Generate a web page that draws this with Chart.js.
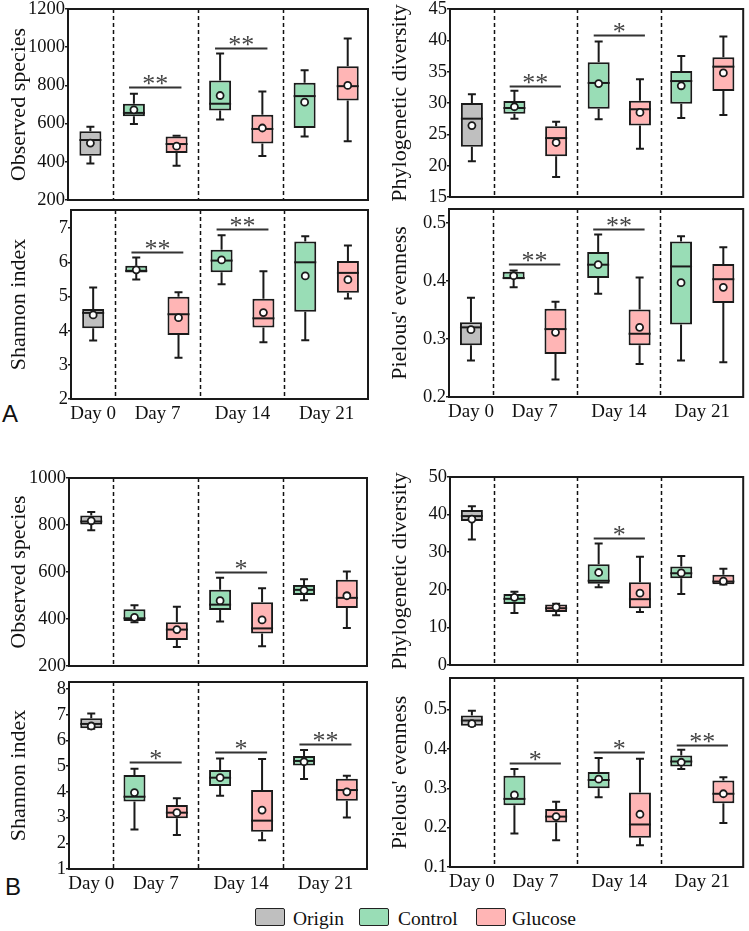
<!DOCTYPE html>
<html>
<head>
<meta charset="UTF-8" />
<script src="https://cdn.jsdelivr.net/npm/chart.js@4"></script>
<style>
  body { margin: 0; width: 749px; height: 931px; position: relative; overflow: hidden; background: #fff; }
  canvas { position: absolute; }
  .tag { position: absolute; font-family: 'Liberation Sans', Arial, sans-serif; font-size: 24px; line-height: 1; color: #111; }
  .swatch { position: absolute; width: 28px; height: 16px; border: 1.5px solid #222; border-radius: 2px; }
  .lbl { position: absolute; font-family: 'Liberation Serif', 'Times New Roman', serif; font-size: 19.5px; line-height: 1; color: #111; }
</style>
</head>
<body>
<div class="tag" style="left:2px;top:402px">A</div>
<div class="tag" style="left:5px;top:875px">B</div>

<div class="swatch" style="left:255px;top:908px;background:#BFBFBF"></div>
<div class="lbl" style="left:293px;top:909px">Origin</div>
<div class="swatch" style="left:359px;top:908px;background:#99DDB6"></div>
<div class="lbl" style="left:398px;top:909px">Control</div>
<div class="swatch" style="left:476px;top:908px;background:#FFB5B5"></div>
<div class="lbl" style="left:512px;top:909px">Glucose</div>

<script>
// box order: Day 0 Origin, Day 7 Control/Glucose, Day 14 Control/Glucose, Day 21 Control/Glucose
const groups = ["Origin", "Control", "Glucose", "Control", "Glucose", "Control", "Glucose"];
const dayLabels = ["Day 0", "Day 7", "Day 14", "Day 21"];

// each box: [low whisker, q1, median, q3, high whisker, mean]
const obsA = [
  [391, 432, 514, 560, 584, 498],
  [598, 639, 656, 704, 756, 672],
  [379, 446, 493, 532, 537, 482],
  [621, 668, 704, 826, 967, 747],
  [430, 496, 572, 646, 768, 577],
  [532, 577, 744, 814, 879, 712],
  [507, 721, 796, 900, 1046, 800],
];
const pdA = [
  [20.7, 23.0, 27.5, 30.0, 31.4, 26.4],
  [27.5, 28.3, 29.2, 30.3, 31.95, 29.4],
  [18.2, 21.5, 24.4, 26.3, 27.0, 23.7],
  [27.4, 29.1, 33.2, 36.5, 39.8, 33.1],
  [22.7, 26.4, 29.0, 30.35, 33.8, 28.5],
  [27.6, 29.9, 33.5, 35.1, 37.5, 32.75],
  [28.1, 31.9, 35.8, 37.3, 40.6, 34.8],
];
const shanA = [
  [3.71, 4.07, 4.52, 4.63, 5.26, 4.46],
  [5.5, 5.7, 5.75, 5.9, 6.14, 5.78],
  [3.21, 3.875, 4.48, 4.99, 5.12, 4.38],
  [5.36, 5.71, 6.05, 6.37, 6.79, 6.07],
  [3.66, 4.09, 4.36, 4.93, 5.74, 4.53],
  [3.72, 4.55, 6.0, 6.61, 6.76, 5.6],
  [4.94, 5.11, 5.69, 6.04, 6.49, 5.49],
];
const pielA = [
  [0.263, 0.289, 0.32, 0.329, 0.371, 0.316],
  [0.389, 0.403, 0.405, 0.416, 0.418, 0.409],
  [0.23, 0.274, 0.317, 0.352, 0.364, 0.3115],
  [0.378, 0.405, 0.428, 0.45, 0.48, 0.428],
  [0.257, 0.289, 0.309, 0.351, 0.406, 0.32],
  [0.263, 0.325, 0.425, 0.468, 0.477, 0.397],
  [0.26, 0.362, 0.403, 0.429, 0.458, 0.389],
];
const obsB = [
  [778, 802, 815, 840, 855, 818],
  [386, 391, 403, 442, 459, 407],
  [281, 311, 355, 386, 452, 355],
  [389, 438, 461, 524, 576, 478],
  [284, 338, 360, 471, 531, 396],
  [480, 502, 524, 545, 569, 522],
  [362, 447, 490, 567, 602, 499],
];
const pdB = [
  [33.4, 38.3, 39.6, 41.2, 42.2, 38.8],
  [13.8, 16.2, 17.6, 18.9, 19.5, 18.0],
  [13.2, 14.1, 15.1, 16.1, 16.3, 15.4],
  [20.7, 21.6, 22.4, 26.8, 32.3, 24.6],
  [14.1, 15.1, 17.5, 22.0, 28.8, 19.1],
  [18.9, 23.1, 24.4, 26.2, 29.0, 24.5],
  [21.4, 21.5, 22.2, 24.0, 25.6, 22.3],
];
const shanB = [
  [6.45, 6.47, 6.64, 6.86, 7.05, 6.56],
  [2.54, 3.62, 3.81, 4.65, 4.9, 3.97],
  [2.32, 2.97, 3.19, 3.49, 3.75, 3.19],
  [3.85, 4.23, 4.55, 4.85, 5.3, 4.55],
  [2.12, 2.45, 2.88, 4.07, 5.28, 3.29],
  [4.5, 5.02, 5.2, 5.39, 5.63, 5.17],
  [3.0, 3.65, 4.07, 4.51, 4.63, 4.0],
];
const pielB = [
  [0.459, 0.459, 0.472, 0.485, 0.497, 0.464],
  [0.185, 0.257, 0.273, 0.332, 0.349, 0.283],
  [0.168, 0.213, 0.228, 0.247, 0.266, 0.228],
  [0.277, 0.30, 0.321, 0.341, 0.377, 0.323],
  [0.155, 0.174, 0.208, 0.289, 0.375, 0.234],
  [0.349, 0.355, 0.368, 0.383, 0.398, 0.366],
  [0.212, 0.262, 0.286, 0.32, 0.328, 0.286],
];

// significance: [day index, bar height, stars]
const obsASig = [[1, 792, "**"], [2, 995, "**"]];
const pdASig = [[1, 32.75, "**"], [2, 40.8, "*"]];
const shanASig = [[1, 6.3, "**"], [2, 6.97, "**"]];
const pielASig = [[1, 0.429, "**"], [2, 0.49, "**"]];
const obsBSig = [[2, 600, "*"]];
const pdBSig = [[2, 33.9, "*"]];
const shanBSig = [[1, 5.15, "*"], [2, 5.54, "*"], [3, 5.85, "**"]];
const pielBSig = [[1, 0.364, "*"], [2, 0.391, "*"], [3, 0.411, "**"]];

const obsATicks = [200, 400, 600, 800, 1000, 1200];
const pdATicks = [15, 20, 25, 30, 35, 40, 45];
const shanATicks = [2, 3, 4, 5, 6, 7];
const pielATicks = [0.2, 0.3, 0.4, 0.5];
const obsBTicks = [200, 400, 600, 800, 1000];
const pdBTicks = [0, 10, 20, 30, 40, 50];
const shanBTicks = [1, 2, 3, 4, 5, 6, 7, 8];
const pielBTicks = [0.1, 0.2, 0.3, 0.4, 0.5];

// x layout (linear axis units)
const positions = [0.53, 1.56, 2.57, 3.6, 4.6, 5.6, 6.62];
const dayCenters = [0.53, 2.07, 4.1, 6.11];
const dayBreaks = [1.06, 3.08, 5.1];
const xMax = 7.1;

const colors = { Origin: "#BFBFBF", Control: "#99DDB6", Glucose: "#FFB5B5" };
const ink = "#1a1a1a";
const serif = "'Liberation Serif', 'Times New Roman', serif";

Chart.defaults.font.family = serif;
Chart.defaults.color = "#111";

const panels = [
  { data: obsA, sig: obsASig, ticks: obsATicks, title: "Observed species", min: 200, max: 1200, col: 0, top: 9, bottom: 200, left: 68, right: 368, days: false },
  { data: pdA, sig: pdASig, ticks: pdATicks, title: "Phylogenetic diversity", min: 15, max: 45, col: 1, top: 9, bottom: 197, left: 450, right: 746, days: false },
  { data: shanA, sig: shanASig, ticks: shanATicks, title: "Shannon index", min: 2, max: 7.53, col: 0, top: 210, bottom: 399, left: 71, right: 368, days: true },
  { data: pielA, sig: pielASig, ticks: pielATicks, title: "Pielous' evenness", min: 0.2, max: 0.524, col: 1, top: 209, bottom: 397, left: 449, right: 746, days: true },
  { data: obsB, sig: obsBSig, ticks: obsBTicks, title: "Observed species", min: 200, max: 1000, col: 0, top: 478, bottom: 666, left: 69, right: 367, days: false },
  { data: pdB, sig: pdBSig, ticks: pdBTicks, title: "Phylogenetic diversity", min: 0, max: 50, col: 1, top: 477, bottom: 665, left: 450, right: 747, days: false },
  { data: shanB, sig: shanBSig, ticks: shanBTicks, title: "Shannon index", min: 1, max: 8.27, col: 0, top: 682, bottom: 869, left: 69, right: 367, days: true },
  { data: pielB, sig: pielBSig, ticks: pielBTicks, title: "Pielous' evenness", min: 0.1, max: 0.58, col: 1, top: 678, bottom: 867, left: 450, right: 747, days: true },
];

// whiskers, medians, separators, significance bars and the frame
function boxParts(p) {
  return {
    id: "boxParts",
    beforeDatasetsDraw(chart) {
      const { ctx, chartArea: a, scales: { x, y } } = chart;
      ctx.save();
      ctx.strokeStyle = "#111";
      ctx.lineWidth = 1.5;
      ctx.setLineDash([4, 3]);
      dayBreaks.forEach((v) => {
        const px = Math.round(x.getPixelForValue(v)) + 0.5;
        ctx.beginPath();
        ctx.moveTo(px, a.top);
        ctx.lineTo(px, a.bottom);
        ctx.stroke();
      });
      ctx.setLineDash([]);
      ctx.strokeStyle = ink;
      ctx.lineWidth = 2;
      p.data.forEach((s, i) => {
        const cx = x.getPixelForValue(positions[i]);
        const yl = y.getPixelForValue(s[0]);
        const yh = y.getPixelForValue(s[4]);
        ctx.beginPath();
        ctx.moveTo(cx, yl); ctx.lineTo(cx, y.getPixelForValue(s[1]));
        ctx.moveTo(cx, y.getPixelForValue(s[3])); ctx.lineTo(cx, yh);
        ctx.moveTo(cx - 4, yl); ctx.lineTo(cx + 4, yl);
        ctx.moveTo(cx - 4, yh); ctx.lineTo(cx + 4, yh);
        ctx.stroke();
      });
      ctx.restore();
    },
    afterDatasetDraw(chart, args) {
      if (args.meta.type !== "bar") return;
      const { ctx, scales: { x, y } } = chart;
      ctx.save();
      ctx.strokeStyle = ink;
      ctx.lineWidth = 2;
      chart.data.datasets[args.index].data.forEach((d) => {
        const cx = x.getPixelForValue(d.x);
        const ym = y.getPixelForValue(d.s[2]);
        ctx.beginPath();
        ctx.moveTo(cx - 11, ym);
        ctx.lineTo(cx + 11, ym);
        ctx.stroke();
      });
      ctx.restore();
    },
    afterDatasetsDraw(chart) {
      const { ctx, scales: { x, y } } = chart;
      ctx.save();
      ctx.font = "26px " + serif;
      ctx.textAlign = "center";
      ctx.textBaseline = "alphabetic";
      const m = ctx.measureText("*");
      const mid = (m.actualBoundingBoxAscent - m.actualBoundingBoxDescent) / 2;
      p.sig.forEach(([day, v, stars]) => {
        const c = (positions[2 * day - 1] + positions[2 * day]) / 2;
        const x0 = x.getPixelForValue(c - 0.62);
        const x1 = x.getPixelForValue(c + 0.62);
        const ly = Math.round(y.getPixelForValue(v)) + 0.5;
        ctx.strokeStyle = "#333";
        ctx.lineWidth = 1.8;
        ctx.beginPath();
        ctx.moveTo(x0, ly);
        ctx.lineTo(x1, ly);
        ctx.stroke();
        ctx.fillStyle = "#444";
        const cx = (x0 + x1) / 2;
        const n = stars.length;
        for (let k = 0; k < n; k++) {
          ctx.fillText("*", cx + (k - (n - 1) / 2) * 13, ly - 8 + mid);
        }
      });
      ctx.restore();
    },
    afterDraw(chart) {
      const { ctx, chartArea: a } = chart;
      ctx.save();
      ctx.strokeStyle = ink;
      ctx.lineWidth = 2;
      ctx.strokeRect(a.left, a.top, a.right - a.left, a.bottom - a.top);
      ctx.restore();
    },
  };
}

function drawPanel(p) {
  const colLeft = p.col ? 375 : 0;
  const colW = p.col ? 374 : 375;
  const padTop = 20;
  const xH = p.days ? 30 : 0;
  const padBottom = p.days ? 0 : 20;
  const cv = document.createElement("canvas");
  cv.width = colW;
  cv.height = p.bottom - p.top + padTop + xH + padBottom;
  cv.style.left = colLeft + "px";
  cv.style.top = p.top - padTop + "px";
  document.body.appendChild(cv);

  const bars = ["Origin", "Control", "Glucose"].map((g) => ({
    type: "bar",
    label: g,
    order: 1,
    grouped: false,
    maxBarThickness: 22,
    backgroundColor: colors[g],
    borderColor: ink,
    borderWidth: 2,
    borderSkipped: false,
    data: p.data
      .map((s, i) => ({ x: positions[i], y: [s[1], s[3]], s, g: groups[i] }))
      .filter((d) => d.g === g),
  }));
  const means = {
    type: "scatter",
    label: "mean",
    order: 0,
    data: p.data.map((s, i) => ({ x: positions[i], y: s[5] })),
    pointRadius: 3.5,
    pointBorderWidth: 1.8,
    pointBackgroundColor: "#fff",
    pointBorderColor: ink,
  };

  new Chart(cv, {
    type: "bar",
    data: { datasets: [...bars, means] },
    options: {
      responsive: false,
      animation: false,
      events: [],
      layout: { padding: { top: padTop, bottom: padBottom, left: 0, right: colLeft + colW - p.right } },
      plugins: { legend: { display: false }, tooltip: { enabled: false } },
      scales: {
        x: {
          type: "linear",
          min: 0,
          max: xMax,
          offset: false,
          display: p.days,
          grid: { display: false, drawTicks: false, offset: false },
          border: { display: false },
          afterBuildTicks: (s) => { s.ticks = dayCenters.map((v) => ({ value: v })); },
          afterFit: (s) => { s.height = xH; },
          ticks: {
            autoSkip: false,
            maxRotation: 0,
            padding: 4,
            font: { size: 19 },
            color: "#111",
            callback: (v, i) => dayLabels[i],
          },
        },
        y: {
          min: p.min,
          max: p.max,
          beginAtZero: false,
          afterBuildTicks: (s) => { s.ticks = p.ticks.map((v) => ({ value: v })); },
          afterFit: (s) => { s.width = p.left - colLeft; },
          grid: { display: true, drawOnChartArea: false, drawTicks: true, tickLength: 3, color: ink, lineWidth: 1.5 },
          border: { display: false },
          ticks: { padding: 0, font: { size: 18.5 }, color: "#111", callback: (v) => String(v) },
          title: {
            display: true,
            text: p.title,
            font: { size: 22 },
            color: "#111",
            padding: { top: p.col ? 12 : 6, bottom: 0 },
          },
        },
      },
    },
    plugins: [boxParts(p)],
  });
}

panels.forEach(drawPanel);
</script>
</body>
</html>
